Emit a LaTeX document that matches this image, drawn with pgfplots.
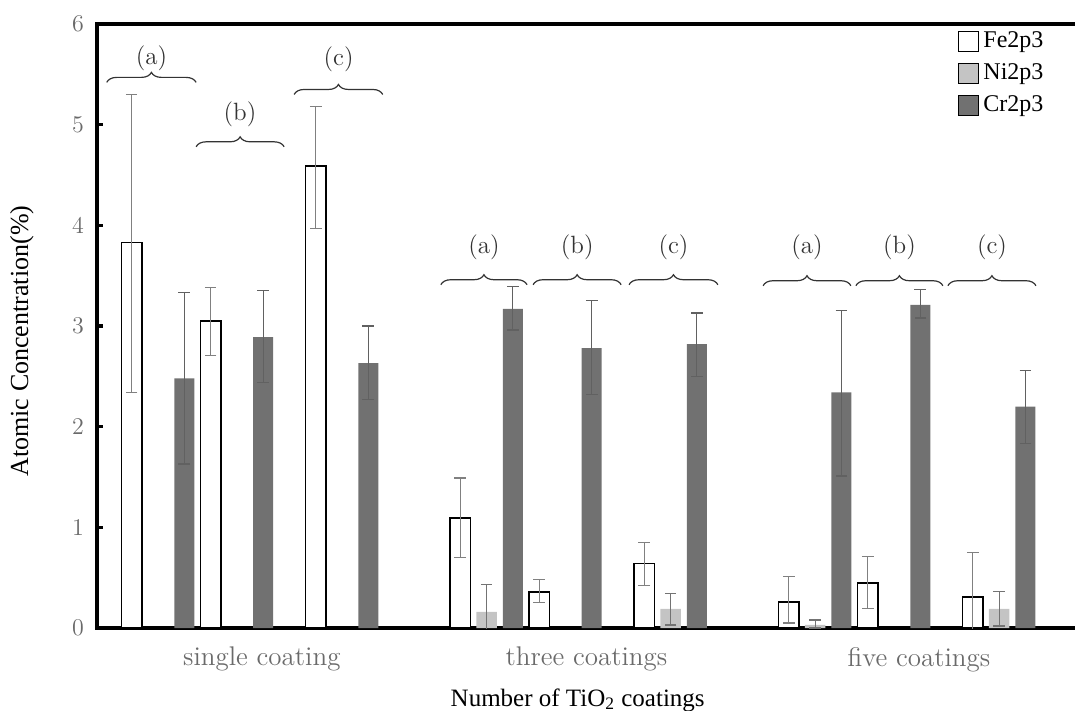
\documentclass[border=0pt]{standalone}
\usepackage{fontspec}
\newfontfamily\tnr{Liberation Serif}
\usepackage{pgfplots}
\pgfplotsset{compat=1.18}
\usetikzlibrary{decorations.pathreplacing}
\definecolor{crgray}{HTML}{717171}
\definecolor{nigray}{HTML}{C4C4C4}
\definecolor{tickgray}{HTML}{6A6A6A}
\definecolor{brgray}{HTML}{333333}
\begin{document}
\begin{tikzpicture}
\begin{axis}[
  scale only axis, width=490.5pt, height=302pt,
  at={(0,0)}, anchor=south west,
  xmin=-1.32, xmax=36.0, ymin=0, ymax=6,
  axis line style={line width=1.6pt},
  ytick={0,1,2,3,4,5,6},
  ytick pos=left, xtick pos=left,
  yticklabel style={tickgray, font=\fontsize{12.5}{14}\selectfont, xshift=-3pt},
  xtick={4.95,17.3,29.95},
  xticklabels={single coating, three coatings, five coatings},
  xticklabel style={tickgray, font=\fontsize{13.5}{15}\selectfont, yshift=-6pt},
  x tick style={draw=none},
  y tick style={line width=1.6pt, black},
  tick align=inside, major tick length=3pt,
  xlabel={\tnr\fontsize{12.5}{14}\selectfont Number of TiO\textsubscript{2} coatings},
  xlabel style={at={(axis description cs:0.49,0)}, anchor=center, yshift=-36pt},
  ylabel={\tnr\fontsize{13}{15}\selectfont Atomic Concentration(\%)},
  ylabel style={at={(axis description cs:-0.0765,0.475)}, anchor=center},
  legend style={at={(axis cs:31.43,5.96)}, anchor=north west, draw=none, fill=none,
    inner sep=0pt, outer sep=0pt, row sep=2.5pt,
    font=\tnr\fontsize{12}{13}\selectfont},
  legend cell align=left,
  legend image code/.code={\draw[#1] (0pt,-5pt) rectangle (10pt,5pt);},
]
\addplot[ybar, bar width=0.78, bar shift=0pt, fill=white, draw=black, line width=0.8pt,
  error bars/.cd, y dir=both, y explicit,
  error bar style={line width=0.6pt, black!50},
  error mark options={rotate=90, mark size=2.9pt, line width=0.6pt, black!50}]
coordinates {
(0,3.83) += (0,1.47) -= (0,1.49)
(3,3.05) += (0,0.33) -= (0,0.34)
(7,4.59) += (0,0.59) -= (0,0.62)
(12.5,1.09) += (0,0.40) -= (0,0.39)
(15.5,0.36) += (0,0.12) -= (0,0.11)
(19.5,0.64) += (0,0.21) -= (0,0.22)
(25,0.26) += (0,0.25) -= (0,0.21)
(28,0.45) += (0,0.26) -= (0,0.26)
(32,0.31) += (0,0.44) -= (0,0.44)
};
\addplot[ybar, bar width=0.78, bar shift=0pt, fill=nigray, draw=none,
  error bars/.cd, y dir=both, y explicit,
  error bar style={line width=0.6pt, black!55},
  error mark options={rotate=90, mark size=2.9pt, line width=0.6pt, black!55}]
coordinates {
(13.5,0.16) += (0,0.27) -= (0,0.27)
(20.5,0.19) += (0,0.15) -= (0,0.16)
(26,0.03) += (0,0.05) -= (0,0.03)
(33,0.19) += (0,0.17) -= (0,0.17)
};
\addplot[ybar, bar width=0.76, bar shift=0pt, fill=crgray, draw=none,
  error bars/.cd, y dir=both, y explicit,
  error bar style={line width=0.6pt, black!62},
  error mark options={rotate=90, mark size=2.9pt, line width=0.6pt, black!62}]
coordinates {
(2,2.48) += (0,0.85) -= (0,0.85)
(5,2.89) += (0,0.46) -= (0,0.45)
(9,2.63) += (0,0.37) -= (0,0.36)
(14.5,3.17) += (0,0.22) -= (0,0.21)
(17.5,2.78) += (0,0.47) -= (0,0.46)
(21.5,2.82) += (0,0.31) -= (0,0.32)
(27,2.34) += (0,0.81) -= (0,0.83)
(30,3.21) += (0,0.15) -= (0,0.13)
(34,2.20) += (0,0.36) -= (0,0.37)
};
\legend{Fe2p3, Ni2p3, Cr2p3}
% brackets
\tikzset{br/.style={brgray, line width=0.6pt, decorate, decoration={brace, amplitude=5pt}},
  brl/.style={brgray, font=\fontsize{12.5}{14}\selectfont, inner sep=0pt}}
\draw[br] (axis cs:-0.95,5.42) -- (axis cs:2.45,5.42);
\node[brl] at (axis cs:0.75,5.66) {(a)};
\draw[br] (axis cs:2.45,4.78) -- (axis cs:5.80,4.78);
\node[brl] at (axis cs:4.12,5.10) {(b)};
\draw[br] (axis cs:6.18,5.30) -- (axis cs:9.55,5.30);
\node[brl] at (axis cs:7.87,5.65) {(c)};
\draw[br] (axis cs:11.76,3.41) -- (axis cs:15.04,3.41);
\node[brl] at (axis cs:13.40,3.78) {(a)};
\draw[br] (axis cs:15.27,3.41) -- (axis cs:18.62,3.41);
\node[brl] at (axis cs:16.95,3.78) {(b)};
\draw[br] (axis cs:18.92,3.41) -- (axis cs:22.30,3.41);
\node[brl] at (axis cs:20.61,3.78) {(c)};
\draw[br] (axis cs:24.02,3.40) -- (axis cs:27.36,3.40);
\node[brl] at (axis cs:25.69,3.78) {(a)};
\draw[br] (axis cs:27.55,3.40) -- (axis cs:30.86,3.40);
\node[brl] at (axis cs:29.21,3.78) {(b)};
\draw[br] (axis cs:31.05,3.40) -- (axis cs:34.40,3.40);
\node[brl] at (axis cs:32.73,3.78) {(c)};
\end{axis}
\pgfresetboundingbox
\path[use as bounding box] (-48.5pt,-41.5pt) rectangle (489pt,314pt);
\end{tikzpicture}
\end{document}
